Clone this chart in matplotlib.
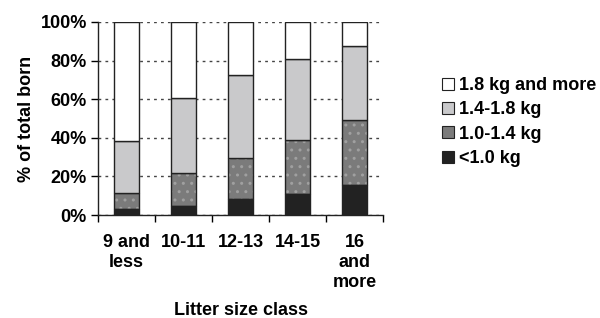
import numpy as np
import matplotlib
matplotlib.use('Agg')
import matplotlib.pyplot as plt
from matplotlib.patches import Patch

plt.rcParams['font.family'] = ['Liberation Sans', 'DejaVu Sans']
plt.rcParams['font.weight'] = 'bold'
plt.rcParams['hatch.linewidth'] = 1.0

categories = ['9 and\nless', '10-11', '12-13', '14-15', '16\nand\nmore']
# percentages per weight class (stacked bottom-up)
below_1_0 = [3.1, 4.9, 8.3, 11.1, 15.6]
w_1_0_1_4 = [8.4, 17.1, 21.1, 28.0, 33.5]
w_1_4_1_8 = [27.1, 38.5, 42.9, 41.6, 38.4]
above_1_8 = [61.4, 39.5, 27.7, 19.3, 12.5]
labels = ['<1.0 kg', '1.0-1.4 kg', '1.4-1.8 kg', '1.8 kg and more']

fs = 13
fig = plt.figure(figsize=(6.0, 3.18), dpi=100)
ax = fig.add_axes([98 / 600, 1 - 215 / 318, 285 / 600, 193 / 318])

x = np.arange(len(categories))
w = 0.44
bottom = np.zeros(len(x))
series = [below_1_0, w_1_0_1_4, w_1_4_1_8, above_1_8]
colors = ['#222222', '#7b7b7b', '#c9c9cb', '#ffffff']
handles = []
for vals, col, lab in zip(series, colors, labels):
    vals = np.array(vals)
    if col == '#7b7b7b':
        ax.bar(x, vals, w, bottom=bottom, color=col, edgecolor='#a0a0a0',
               hatch='..', linewidth=0, zorder=2)
        ax.bar(x, vals, w, bottom=bottom, color='none', edgecolor='#222222',
               linewidth=1.0, zorder=3)
    else:
        ax.bar(x, vals, w, bottom=bottom, color=col, edgecolor='#222222',
               linewidth=1.0, zorder=3)
    handles.append(Patch(facecolor=col, edgecolor='#222222', linewidth=0.8, label=lab))
    bottom += vals

ax.set_xlim(-0.5, len(x) - 0.5)
ax.set_ylim(0, 100)
ax.set_yticks(np.arange(0, 101, 20))
ax.set_yticklabels([f'{v}%' for v in range(0, 101, 20)], fontsize=fs, fontweight='bold')
ax.yaxis.grid(True, linestyle=(0, (2, 3)), color='#444444', linewidth=1.0, zorder=0)
ax.set_axisbelow(True)

ax.set_xticks(x)
ax.set_xticklabels(categories, fontsize=fs, fontweight='bold', va='top', linespacing=1.2)
ax.tick_params(axis='x', length=0, pad=14)
ax.set_xticks(np.arange(-0.5, len(x)), minor=True)
ax.tick_params(axis='x', which='minor', length=5, direction='out', width=1.0)
ax.tick_params(axis='y', length=5, direction='out', width=1.0, pad=3)

for s in ['top', 'right']:
    ax.spines[s].set_visible(False)
for s in ['left', 'bottom']:
    ax.spines[s].set_linewidth(1.0)
    ax.spines[s].set_color('#222222')

ax.set_ylabel('% of total born', fontsize=fs, fontweight='bold', labelpad=4)
ax.set_xlabel('Litter size class', fontsize=fs, fontweight='bold', labelpad=8)

leg = fig.legend(handles[::-1], labels[::-1], loc='upper left',
                 bbox_to_anchor=(426 / 600, 1 - 61 / 318), frameon=False,
                 prop={'size': fs, 'weight': 'bold'}, handlelength=0.65,
                 handleheight=0.65, handletextpad=0.3, labelspacing=0.4)

fig.savefig('out.png', dpi=100)
